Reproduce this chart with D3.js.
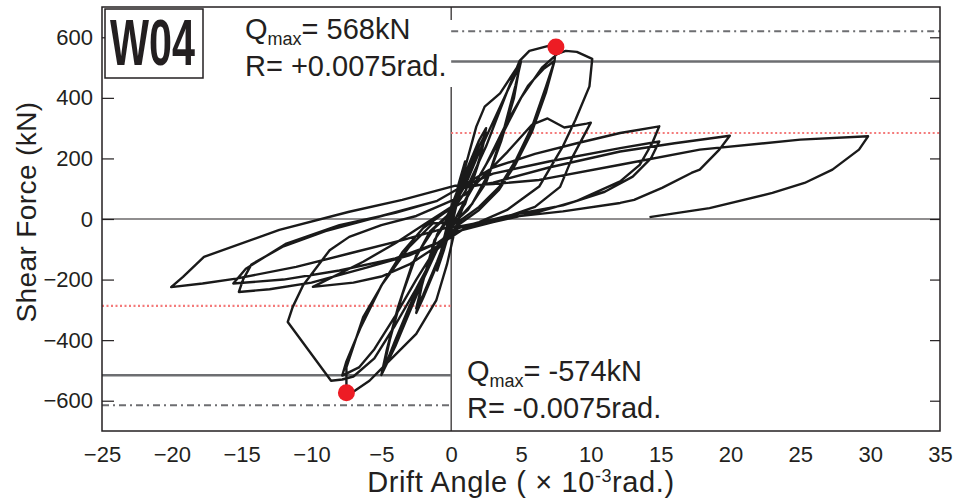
<!DOCTYPE html>
<html>
<head>
<meta charset="utf-8">
<script src="https://cdn.jsdelivr.net/npm/d3@7"></script>
<style>
  body { margin: 0; background: #fff; }
  text { font-family: "Liberation Sans", Arial, Helvetica, sans-serif; fill: #231f20; }
</style>
</head>
<body>
<div id="chart"></div>
<script>
// tick values
var xTicks = [-25, -20, -15, -10, -5, 0, 5, 10, 15, 20, 25, 30, 35];
var yTicks = [-600, -400, -200, 0, 200, 400, 600];

// hysteresis curve, [drift (x10^-3 rad), shear (kN)], one array per amplitude stage
var loopSmall = [[0,0],[0.5,110],[1,190],[0.6,90],[0.2,10],[-0.5,-100],[-1,-170],[-0.6,-80],[-0.2,-5],
  [0.5,100],[1,185],[0.6,85],[0.1,5],[-0.5,-95],[-1,-165],[-0.5,-60],[0,0],
  [1,150],[2,260],[2.5,300],[2.1,210],[1.2,80],[0.3,0],[-1,-150],[-2,-260],[-2.5,-310],[-2.1,-220],[-1.2,-70],[-0.2,0],
  [1,130],[2,240],[2.5,285],[2,190],[1,50],[0,-20],[-1,-140],[-2,-250],[-2.5,-295],[-2,-200],[-1,-50],[0,20]];
var loop5 = [[1,170],[1.8,305],[2.4,371],[3.5,415],[5,520],[4.6,440],[3.8,300],[2.8,160],[1.5,50],[0.3,-10],
  [-1,-100],[-2,-200],[-3,-310],[-4,-420],[-5,-515],[-4.6,-430],[-3.8,-290],[-2.8,-150],[-1.5,-40],[-0.3,10],
  [1,110],[2,220],[3,320],[4,420],[4.9,505],[4.5,400],[3.6,260],[2.5,120],[1.2,30],[0,-20],
  [-1,-100],[-2,-190],[-3,-290],[-4,-400],[-4.9,-506],[-4.4,-400],[-3.5,-250],[-2.5,-120],[-1.2,-30],[0,20]];
var loop7 = [[1,90],[2.5,240],[4,420],[4.9,522],[5.6,555],[6.9,571],[7.5,568],
  [7.4,522],[6.8,439],[5.8,306],[4.65,196],[3.46,107],[2,40],[0.5,-10],
  [-1.3,-14],[-3,-92],[-4.9,-213],[-6.3,-324],[-7.5,-490],[-7.5,-544],[-7.5,-574],
  [-6.9,-567],[-5.85,-534],[-4.9,-490],[-2.5,-379],[-1.07,-269],[-0.3,-150],[0.3,-30],
  [1,60],[2.5,180],[4,320],[5.5,440],[6.6,495],[7.4,522],
  [6.8,420],[5.8,290],[4.6,180],[3.4,95],[2,30],[0.5,-20],
  [-1,-90],[-2.5,-200],[-4,-320],[-5.5,-430],[-6.6,-490],[-7.8,-517],
  [-7.5,-470],[-6.5,-360],[-5,-220],[-3.5,-110],[-2,-30],[-0.5,20]];
var loop10 = [[1,60],[3,220],[5,400],[6.5,500],[7.6,545],[8.2,555],[9,552],[10.1,529],
  [9.9,438],[8.9,328],[8,240],[6.3,107],[4,30],[2,-10],[0.5,-30],
  [-1,-100],[-2.5,-230],[-4,-350],[-5.5,-460],[-7,-520],[-7.8,-530],[-8.6,-534],[-11.7,-340],
  [-11.35,-291],[-10.6,-219],[-8.7,-103],[-7.3,-59],[-5,-20],[-2.5,10],[-0.5,50],
  [1,80],[2.5,150],[4,220],[5.8,312],[6.9,332],[8.1,302],[9.7,315],[10,318],
  [8.7,206],[7.8,106],[6,40],[3.5,0],[1,-30],
  [-1,-90],[-3,-150],[-5,-190],[-7,-210],[-9.9,-224],
  [-6.3,-141],[-4,-80],[-2,-20],[0,40]];
var loop15 = [[0.5,100],[3,170],[6,215],[9,250],[12.1,284],[14.9,306],
  [14.4,251],[13.5,179],[12.1,124],[9,60],[6,20],[3,-10],[0.5,-40],
  [-1,-80],[-3,-120],[-6,-160],[-10,-210],[-13,-232],[-15.2,-241],
  [-14.9,-200],[-14.3,-150],[-12,-90],[-9,-40],[-5,10],[-1,60],[0.5,100],
  [3,150],[7,190],[12.1,234],[14.9,256],
  [14.3,200],[13,140],[11,90],[8,45],[4,10],[0.5,-30],
  [-1,-80],[-4,-130],[-8,-170],[-12,-200],[-15.6,-213],
  [-14.7,-164],[-11.8,-81],[-8,-20],[-4,20],[-1,60],[0.5,100]];
var loop20 = [[3,120],[7,170],[12.1,223],[16,250],[19.95,275],
  [19.2,229],[17.8,163],[17.2,152],[15.1,103],[13.1,63],[12.1,53],[8,25],[4,5],[0.5,-25],
  [-0.1,-26],[-3.5,-70],[-7.3,-114],[-11.1,-158],[-15.4,-197],[-17.8,-213],[-20.05,-225],
  [-19.2,-191],[-17.7,-125],[-12.3,-36],[-7.3,24],[-3.5,63],[0.3,110]];
var loop30 = [[3,115],[6.3,129],[12.1,179],[17.8,229],[25,262],[29.85,273],
  [29.2,229],[27.3,163],[25.3,119],[23,86],[18.5,36],[14.2,6]];

// reference levels (kN) and peak points
var refPosLevels = [620, 520, 284];
var refNegLevels = [-615, -516, -287];
var refStyles = ["dashdot", "solid", "dotted"];
var peaks = [[7.5, 568], [-7.5, -574]];

var width = 955, height = 500;
var svg = d3.select("#chart").append("svg")
  .attr("width", width)
  .attr("height", height);

var x = d3.scaleLinear().domain([-25, 35]).range([102, 940]);
var y = d3.scaleLinear().domain([-700, 700]).range([431, 7]);

// zero lines
svg.append("line")
  .attr("x1", x(-25)).attr("x2", x(35))
  .attr("y1", y(0)).attr("y2", y(0))
  .attr("stroke", "#231f20").attr("stroke-width", 1.2);
svg.append("line")
  .attr("x1", x(0)).attr("x2", x(0))
  .attr("y1", y(700)).attr("y2", y(-700))
  .attr("stroke", "#231f20").attr("stroke-width", 1.2);

// white box behind the top annotation
svg.append("rect")
  .attr("x", 238).attr("y", 20)
  .attr("width", 216).attr("height", 67)
  .attr("fill", "#fff");

function styleRef(sel, kind) {
  if (kind === "solid") {
    sel.attr("stroke", "#6d6e71").attr("stroke-width", 2.6);
  } else if (kind === "dashdot") {
    sel.attr("stroke", "#6d6e71").attr("stroke-width", 2).attr("stroke-dasharray", "7,4,2,4");
  } else {
    sel.attr("stroke", "#f47a7a").attr("stroke-width", 2.2).attr("stroke-dasharray", "2,2.5");
  }
}

refPosLevels.forEach(function(v, i) {
  svg.append("line")
    .attr("x1", x(0)).attr("x2", x(35))
    .attr("y1", y(v)).attr("y2", y(v))
    .call(styleRef, refStyles[i]);
});
refNegLevels.forEach(function(v, i) {
  svg.append("line")
    .attr("x1", x(-25)).attr("x2", x(0))
    .attr("y1", y(v)).attr("y2", y(v))
    .call(styleRef, refStyles[i]);
});

// curve
var curve = [].concat(loopSmall, loop5, loop7, loop10, loop15, loop20, loop30);
var line = d3.line()
  .x(function(d) { return x(d[0]); })
  .y(function(d) { return y(d[1]); });

svg.append("path")
  .datum(curve)
  .attr("d", line)
  .attr("fill", "none")
  .attr("stroke", "#1a1a1a")
  .attr("stroke-width", 2.4)
  .attr("stroke-linejoin", "round");

svg.selectAll("circle.peak")
  .data(peaks)
  .enter()
  .append("circle")
  .attr("class", "peak")
  .attr("cx", function(d) { return x(d[0]); })
  .attr("cy", function(d) { return y(d[1]); })
  .attr("r", 8.5)
  .attr("fill", "#ed1c24");

// axes
var yAxis = d3.axisLeft(y).tickValues(yTicks).tickSizeInner(-12).tickSizeOuter(0).tickPadding(9);
var yAxisR = d3.axisRight(y).tickValues(yTicks).tickSizeInner(-10).tickSizeOuter(0).tickFormat("");
var xAxis = d3.axisBottom(x).tickValues(xTicks).tickSize(0).tickPadding(15);

var gy = svg.append("g").attr("transform", "translate(" + x(-25) + ",0)").call(yAxis);
var gyr = svg.append("g").attr("transform", "translate(" + x(35) + ",0)").call(yAxisR);
var gx = svg.append("g").attr("transform", "translate(0," + y(-700) + ")").call(xAxis);

[gy, gyr, gx].forEach(function(g) {
  g.select(".domain").remove();
  g.selectAll("line").attr("stroke", "#231f20").attr("stroke-width", 1.2);
  g.selectAll("text").attr("font-size", 22).attr("font-family", null).attr("fill", "#231f20");
});

// frame
svg.append("rect")
  .attr("x", x(-25)).attr("y", y(700))
  .attr("width", x(35) - x(-25)).attr("height", y(-700) - y(700))
  .attr("fill", "none")
  .attr("stroke", "#231f20")
  .attr("stroke-width", 1.5);

// specimen label
svg.append("rect")
  .attr("x", 105).attr("y", 9)
  .attr("width", 98).attr("height", 69)
  .attr("fill", "#fff")
  .attr("stroke", "#231f20")
  .attr("stroke-width", 1.5);
svg.append("text")
  .attr("x", 110).attr("y", 65)
  .attr("font-size", 64)
  .attr("font-weight", "bold")
  .attr("textLength", 85)
  .attr("lengthAdjust", "spacingAndGlyphs")
  .text("W04");

// annotations
function qmax(xp, yp, value) {
  var t = svg.append("text").attr("x", xp).attr("y", yp).attr("font-size", 29);
  t.append("tspan").text("Q");
  t.append("tspan").attr("font-size", 18).attr("dy", 6).text("max");
  t.append("tspan").attr("dy", -6).text("= " + value);
}
qmax(245, 39, "568kN");
svg.append("text").attr("x", 245).attr("y", 75.5).attr("font-size", 29).text("R= +0.0075rad.");
qmax(467, 381, "-574kN");
svg.append("text").attr("x", 467).attr("y", 417.5).attr("font-size", 29).text("R= -0.0075rad.");

// axis titles
svg.append("text")
  .attr("transform", "translate(36," + 212 + ") rotate(-90)")
  .attr("text-anchor", "middle")
  .attr("font-size", 28)
  .attr("letter-spacing", 0.4)
  .text("Shear Force (kN)");

var xt = svg.append("text")
  .attr("x", 521).attr("y", 492)
  .attr("text-anchor", "middle")
  .attr("font-size", 29)
  .attr("letter-spacing", 0.6);
xt.append("tspan").text("Drift Angle ( \u00d7 10");
xt.append("tspan").attr("font-size", 18).attr("dy", -10).text("-3");
xt.append("tspan").attr("dy", 10).text("rad.)");
</script>
</body>
</html>
